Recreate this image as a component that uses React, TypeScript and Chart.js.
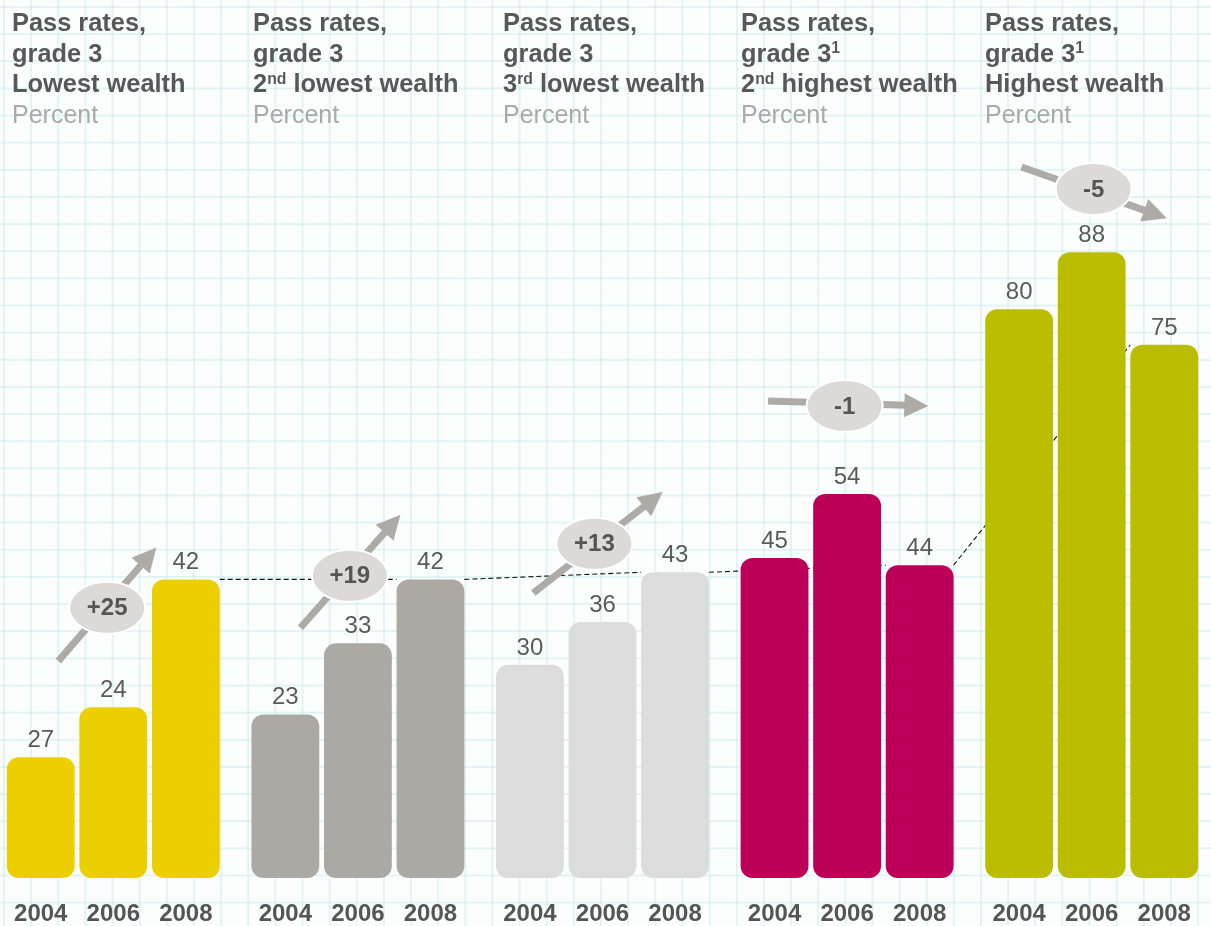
import React, { useEffect, useRef } from "react";
import { Chart, registerables } from "chart.js";

Chart.register(...registerables);

// ---------- data ----------
const groups = ["Lowest wealth", "2nd lowest wealth", "3rd lowest wealth", "2nd highest wealth", "Highest wealth"];
const years = ["2004", "2006", "2008"];
// bar heights as drawn in the picture
const values2004 = [17, 23, 30, 45, 80];
const values2006 = [24, 33, 36, 54, 88];
const values2008 = [42, 42, 43, 44, 75];
// value labels as printed above the bars
const labels2004 = ["27", "23", "30", "45", "80"];
const labels2006 = ["24", "33", "36", "54", "88"];
const labels2008 = ["42", "42", "43", "44", "75"];
const changeLabels = ["+25", "+19", "+13", "-1", "-5"];
const titleLine1 = ["Pass rates,", "Pass rates,", "Pass rates,", "Pass rates,", "Pass rates,"];
const titleLine2Sup = ["", "", "", "1", "1"];
const titleLine3Prefix = ["Lowest wealth", "2", "3", "2", "Highest wealth"];
const titleLine3Sup = ["", "nd", "rd", "nd", ""];
const titleLine3Rest = ["", " lowest wealth", " lowest wealth", " highest wealth", ""];
const unitLabel = "Percent";

// ---------- styles / layout ----------
const FONT = "'Liberation Sans', Arial, Helvetica, sans-serif";
const groupColors = ["#ebcf00", "#aba9a4", "#dcdcdd", "#bc0059", "#bbbd00"];
const titleLeft = [12, 253, 503, 741, 985];
// arrow annotations: offsets in category units from the group centre, y in data units
const arrowGeom = [
  { x0: -0.225, y0: 30.5, x1: 0.176, y1: 46.5, ex: -0.025, ey: 38.0 },
  { x0: -0.235, y0: 35.2, x1: 0.174, y1: 51.1, ex: -0.033, ey: 42.5 },
  { x0: -0.283, y0: 40.1, x1: 0.246, y1: 54.3, ex: -0.033, ey: 47.0 },
  { x0: -0.323, y0: 67.1, x1: 0.332, y1: 66.4, ex: -0.010, ey: 66.4 },
  { x0: -0.287, y0: 100.0, x1: 0.307, y1: 92.8, ex: 0.008, ey: 96.9 },
];

function drawArrow(ctx: CanvasRenderingContext2D, x0: number, y0: number, x1: number, y1: number) {
  const ang = Math.atan2(y1 - y0, x1 - x0);
  const headLen = 24;
  const headW = 12;
  const bx = x1 - headLen * Math.cos(ang);
  const by = y1 - headLen * Math.sin(ang);
  ctx.save();
  ctx.strokeStyle = "#aeaaa5";
  ctx.fillStyle = "#aeaaa5";
  ctx.lineWidth = 7;
  ctx.lineCap = "butt";
  ctx.beginPath();
  ctx.moveTo(x0, y0);
  ctx.lineTo(bx + 2 * Math.cos(ang), by + 2 * Math.sin(ang));
  ctx.stroke();
  ctx.beginPath();
  ctx.moveTo(x1, y1);
  ctx.lineTo(bx + headW * Math.sin(ang), by - headW * Math.cos(ang));
  ctx.lineTo(bx - headW * Math.sin(ang), by + headW * Math.cos(ang));
  ctx.closePath();
  ctx.fill();
  ctx.restore();
}

const overlayPlugin = {
  id: "overlay",
  beforeDatasetsDraw(chart: any) {
    const ctx = chart.ctx as CanvasRenderingContext2D;
    const meta = chart.getDatasetMeta(2);
    ctx.save();
    ctx.strokeStyle = "#111";
    ctx.lineWidth = 1.1;
    ctx.setLineDash([5, 3]);
    ctx.beginPath();
    for (let i = 0; i < meta.data.length - 1; i++) {
      const a = meta.data[i];
      const b = meta.data[i + 1];
      ctx.moveTo(a.x + a.width / 2, a.y);
      ctx.lineTo(b.x - b.width / 2, b.y);
    }
    ctx.stroke();
    ctx.restore();
  },
  afterDatasetsDraw(chart: any) {
    const ctx = chart.ctx as CanvasRenderingContext2D;
    const xs = chart.scales.x;
    const ys = chart.scales.y;
    const labelSets = [labels2004, labels2006, labels2008];
    ctx.save();
    for (let d = 0; d < 3; d++) {
      const meta = chart.getDatasetMeta(d);
      meta.data.forEach((el: any, i: number) => {
        ctx.fillStyle = "#5a5a5a";
        ctx.font = `24px ${FONT}`;
        ctx.textAlign = "center";
        ctx.textBaseline = "alphabetic";
        ctx.fillText(labelSets[d][i], el.x, el.y - 10);
        ctx.fillStyle = "#555555";
        ctx.font = `bold 24px ${FONT}`;
        ctx.fillText(years[d], el.x, chart.height - 5);
      });
    }
    const pitch = xs.getPixelForValue(1) - xs.getPixelForValue(0);
    arrowGeom.forEach((g, i) => {
      const cx = xs.getPixelForValue(i);
      drawArrow(ctx, cx + g.x0 * pitch, ys.getPixelForValue(g.y0), cx + g.x1 * pitch, ys.getPixelForValue(g.y1));
      const ex = cx + g.ex * pitch;
      const ey = ys.getPixelForValue(g.ey);
      ctx.beginPath();
      ctx.ellipse(ex, ey, 38, 26, 0, 0, Math.PI * 2);
      ctx.fillStyle = "#dbdad9";
      ctx.fill();
      ctx.lineWidth = 2;
      ctx.strokeStyle = "#ffffff";
      ctx.stroke();
      ctx.fillStyle = "#555555";
      ctx.font = `bold 24px ${FONT}`;
      ctx.textAlign = "center";
      ctx.textBaseline = "middle";
      ctx.fillText(changeLabels[i], ex, ey + 1);
    });
    ctx.restore();
  },
};

export default function App() {
  const canvasRef = useRef<HTMLCanvasElement | null>(null);

  useEffect(() => {
    document.body.style.margin = "0";
    const canvas = canvasRef.current;
    if (!canvas) return;
    const mk = (vals: number[], label: string) => ({
      label,
      data: vals,
      backgroundColor: groupColors,
      borderRadius: 12,
      borderSkipped: false,
      borderWidth: 0,
      categoryPercentage: 0.89,
      barPercentage: 0.935,
    });
    const chart = new Chart(canvas, {
      type: "bar",
      data: {
        labels: groups,
        datasets: [mk(values2004, years[0]), mk(values2006, years[1]), mk(values2008, years[2])],
      },
      options: {
        responsive: false,
        animation: false,
        devicePixelRatio: 1,
        layout: { padding: { top: 167, bottom: 48, left: 0, right: 0 } },
        plugins: { legend: { display: false }, tooltip: { enabled: false } },
        scales: {
          x: { display: false },
          y: { display: false, min: 0, max: 100 },
        },
      } as any,
      plugins: [overlayPlugin],
    });
    return () => chart.destroy();
  }, []);

  const supStyle: React.CSSProperties = {
    fontSize: "0.62em",
    position: "relative",
    top: "-0.55em",
    lineHeight: 0,
    verticalAlign: "baseline",
  };

  return (
    <div
      style={{
        position: "relative",
        width: 1211,
        height: 926,
        overflow: "hidden",
        backgroundColor: "#fcfefe",
        backgroundImage:
          "linear-gradient(to right, rgba(190,228,232,0.42) 0px, rgba(190,228,232,0.42) 2px, transparent 2px), linear-gradient(to bottom, rgba(190,228,232,0.42) 0px, rgba(190,228,232,0.42) 2px, transparent 2px)",
        backgroundSize: "27.15px 27.15px",
        backgroundPosition: "3px 6px",
        fontFamily: FONT,
      }}
    >
      <canvas
        ref={canvasRef}
        width={1223}
        height={926}
        style={{ position: "absolute", left: -9, top: 0, width: 1223, height: 926 }}
      />
      {groups.map((g, i) => (
        <div
          key={g}
          style={{
            position: "absolute",
            left: titleLeft[i],
            top: 7,
            fontSize: 25.4,
            lineHeight: "30.7px",
            fontWeight: "bold",
            color: "#58585a",
            whiteSpace: "nowrap",
          }}
        >
          <div>{titleLine1[i]}</div>
          <div>
            grade 3{titleLine2Sup[i] ? <span style={supStyle}>{titleLine2Sup[i]}</span> : null}
          </div>
          <div>
            {titleLine3Prefix[i]}
            {titleLine3Sup[i] ? <span style={supStyle}>{titleLine3Sup[i]}</span> : null}
            {titleLine3Rest[i]}
          </div>
          <div style={{ fontWeight: "normal", color: "#a9a9a9", fontSize: 25 }}>{unitLabel}</div>
        </div>
      ))}
    </div>
  );
}
